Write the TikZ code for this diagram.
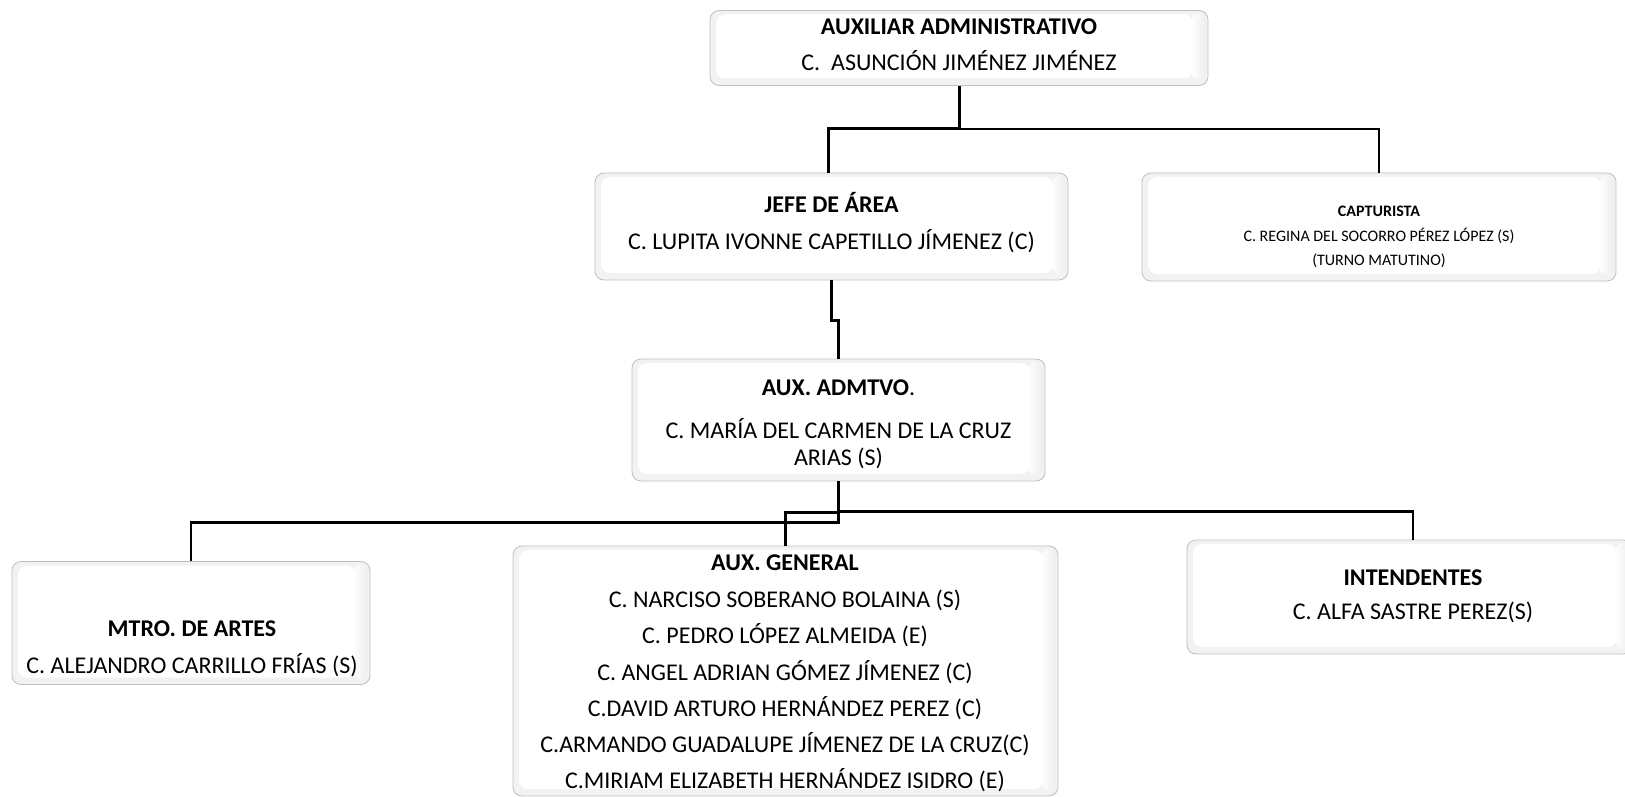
\documentclass[tikz,border=0pt]{standalone}
\usepackage{fontspec}
\setmainfont{Carlito}
\begin{document}
\begin{tikzpicture}[x=1pt,y=-1pt,
  box/.style={draw=gray!50, line width=0.8pt, rounded corners=9pt, fill=gray!10, inner sep=0pt,
    path picture={
      \shade[left color=gray!10, right color=white] ([xshift=1pt,yshift=-3pt]path picture bounding box.north west) rectangle ([xshift=7pt,yshift=6pt]path picture bounding box.south west);
      \shade[left color=white, right color=gray!14] ([xshift=-17pt,yshift=-3pt]path picture bounding box.north east) rectangle ([xshift=-2pt,yshift=6pt]path picture bounding box.south east);
      \fill[white] ([xshift=6pt,yshift=-4pt]path picture bounding box.north west) rectangle ([xshift=-15pt,yshift=7pt]path picture bounding box.south east);}},
  conn/.style={draw=black, line width=2.2pt},
  lbl/.style={anchor=base, inner sep=0pt, font=\fontsize{24}{29}\selectfont},
  small/.style={anchor=base, inner sep=0pt, font=\fontsize{16}{20}\selectfont}]
\useasboundingbox (0,0) rectangle (1625,797);
\clip (0,0) rectangle (1625,797);
\fill[white] (0,0) rectangle (1625,797);
% boxes
\node[box, minimum width=498pt, minimum height=75pt]  (top)    at (959,48) {};
\node[box, minimum width=473pt, minimum height=107pt] (jefe)   at (831.5,226.5) {};
\node[box, minimum width=474pt, minimum height=108pt] (capt)   at (1379,227) {};
\node[box, minimum width=413pt, minimum height=122pt] (admtvo) at (838.5,420) {};
\node[box, minimum width=358pt, minimum height=123pt] (mtro)   at (191,623) {};
\node[box, minimum width=545pt, minimum height=250pt] (auxgen) at (785.5,671) {};
\node[box, minimum width=445pt, minimum height=114pt] (intend) at (1409.5,597) {};
% connectors
\draw[conn, line width=3pt] (top.south) -- ++(0,43) -| ([xshift=-3.5pt]jefe.north);
\draw[conn] (top.south) ++(0,43) -| (capt.north);
\draw[conn] (jefe.south) -- ++(0,40) -| (admtvo.north);
\draw[conn] (admtvo.south) -- ++(0,30) -| ([xshift=3.5pt]intend.north);
\draw[conn] (admtvo.south) -- ++(0,31) -| (auxgen.north);
\draw[conn] (admtvo.south) -- ++(0,41) -| (mtro.north);
% texts
\node[lbl] (t1a) at (959,35) {\bfseries AUXILIAR ADMINISTRATIVO};
\node[lbl] (t1b) at (959,71) {C.\ \ ASUNCIÓN JIMÉNEZ JIMÉNEZ};
\node[lbl] (t2a) at (831.5,212) {\bfseries JEFE DE ÁREA};
\node[lbl] (t2b) at (831.5,249) {C. LUPITA IVONNE CAPETILLO JÍMENEZ (C)};
\node[small] (t3a) at (1379,216) {\bfseries CAPTURISTA};
\node[small] (t3b) at (1379,241) {C. REGINA DEL SOCORRO PÉREZ LÓPEZ (S)};
\node[small] (t3c) at (1379,265) {(TURNO MATUTINO)};
\node[lbl] (t4a) at (838.5,395) {\textbf{AUX. ADMTVO}.};
\node[lbl] (t4b) at (838.5,438) {C. MARÍA DEL CARMEN DE LA CRUZ};
\node[lbl] (t4c) at (838.5,465) {ARIAS (S)};
\node[lbl] (t5a) at (192,636) {\bfseries MTRO. DE ARTES};
\node[lbl] (t5b) at (192,673) {C. ALEJANDRO CARRILLO FRÍAS (S)};
\node[lbl] (t6a) at (785,570) {\bfseries AUX. GENERAL};
\node[lbl] (t6b) at (785,607) {C. NARCISO SOBERANO BOLAINA (S)};
\node[lbl] (t6c) at (785,643) {C. PEDRO LÓPEZ ALMEIDA (E)};
\node[lbl] (t6d) at (785,680) {C. ANGEL ADRIAN GÓMEZ JÍMENEZ (C)};
\node[lbl] (t6e) at (785,716) {C.DAVID ARTURO HERNÁNDEZ PEREZ (C)};
\node[lbl] (t6f) at (785,752) {C.ARMANDO GUADALUPE JÍMENEZ DE LA CRUZ(C)};
\node[lbl] (t6g) at (785,788) {C.MIRIAM ELIZABETH HERNÁNDEZ ISIDRO (E)};
\node[lbl] (t7a) at (1413,585) {\bfseries INTENDENTES};
\node[lbl] (t7b) at (1413,619) {C. ALFA SASTRE PEREZ(S)};
\end{tikzpicture}
\end{document}
